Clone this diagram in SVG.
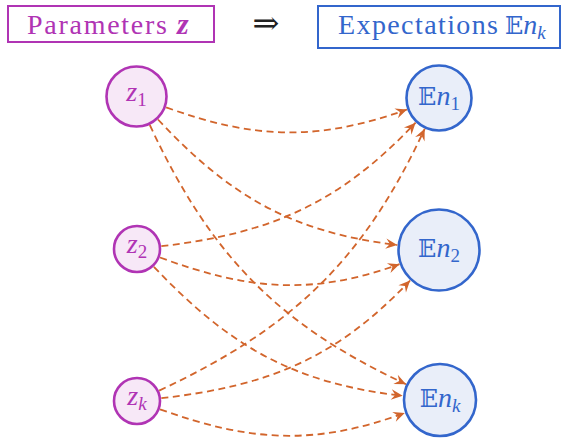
<svg xmlns="http://www.w3.org/2000/svg" width="572" height="441" viewBox="0 0 572 441">
<style>
.zc{fill:#f7e8f7;stroke:#b034b4;stroke-width:2.6}
.ec{fill:#e9eef9;stroke:#3366cc;stroke-width:2.6}
.zt{fill:#b034b4;font-family:"Liberation Serif",serif;font-size:28px}
.et{fill:#3366cc;font-family:"Liberation Serif",serif;font-size:28px}
.it{font-style:italic}
.sub{font-size:19px;font-style:normal}
.subi{font-size:19px;font-style:italic}
.bb{font-family:"DejaVu Serif","DejaVu Sans",serif;font-style:normal;font-size:24px}
.edge{fill:none;stroke:#d2652c;stroke-width:1.8;stroke-dasharray:7 4.5;marker-end:url(#ah)}
</style>
<defs>
<marker id="ah" markerUnits="userSpaceOnUse" viewBox="-13 -7 15 14" markerWidth="15" markerHeight="14" refX="0" refY="0" orient="auto">
<path d="M0,0 L-11.5,-5.2 L-7.5,0 L-11.5,5.2 Z" fill="#d2652c"/>
</marker>
</defs>
<g id="title-left">
<rect x="8" y="6" width="206" height="36" fill="none" stroke="#b034b4" stroke-width="2"/>
<text class="zt" x="27" y="33.5" textLength="140" lengthAdjust="spacing" font-size="30">Parameters</text>
<text x="177" y="33.5" fill="#b034b4" font-family="Liberation Serif,serif" font-size="30" font-style="italic" font-weight="bold">z</text>
</g>
<g id="implies">
<text x="266" y="34" text-anchor="middle" font-family="DejaVu Serif,serif" font-size="32" fill="#222">⇒</text>
</g>
<g id="title-right">
<rect x="318" y="6" width="242" height="42" fill="none" stroke="#3366cc" stroke-width="2"/>
<text class="et" x="338" y="33.5" textLength="160" lengthAdjust="spacing" font-size="30">Expectations</text>
<text class="et" x="505" y="33.5"><tspan class="bb">𝔼</tspan><tspan class="it">n</tspan><tspan class="subi" dy="5">k</tspan></text>
</g>
<g id="z1">
<circle class="zc" cx="136.5" cy="96.5" r="30"/>
<text class="zt" x="136.5" y="100.5" text-anchor="middle"><tspan class="it">z</tspan><tspan class="sub" dy="5">1</tspan></text>
</g>
<g id="z2">
<circle class="zc" cx="137" cy="249" r="23"/>
<text class="zt" x="137" y="253" text-anchor="middle"><tspan class="it">z</tspan><tspan class="sub" dy="5">2</tspan></text>
</g>
<g id="zk">
<circle class="zc" cx="137" cy="401" r="23"/>
<text class="zt" x="137" y="405" text-anchor="middle"><tspan class="it">z</tspan><tspan class="subi" dy="5">k</tspan></text>
</g>
<g id="En1">
<circle class="ec" cx="439" cy="98" r="32.5"/>
<text class="et" x="439" y="105" text-anchor="middle"><tspan class="bb">𝔼</tspan><tspan class="it">n</tspan><tspan class="sub" dy="5">1</tspan></text>
</g>
<g id="En2">
<circle class="ec" cx="439" cy="250" r="40.5"/>
<text class="et" x="439" y="257" text-anchor="middle"><tspan class="bb">𝔼</tspan><tspan class="it">n</tspan><tspan class="sub" dy="5">2</tspan></text>
</g>
<g id="Enk">
<circle class="ec" cx="440" cy="400" r="36"/>
<text class="et" x="440" y="407" text-anchor="middle"><tspan class="bb">𝔼</tspan><tspan class="it">n</tspan><tspan class="subi" dy="5">k</tspan></text>
</g>
<g id="connectors">
<path class="edge" d="M166.1,107.3 C254.7,139.5 318.2,141.3 407,109.5"/>
<path class="edge" d="M158,119.5 C230.3,196.8 292.3,232.3 397.3,245"/>
<path class="edge" d="M149.8,125 C210.1,254.3 276.7,323.9 406,384.2"/>
<path class="edge" d="M161.3,246.2 C271.3,233.5 339.5,203.1 415.6,122.7"/>
<path class="edge" d="M160,257.5 C248,289.9 311.3,296 399.5,264.2"/>
<path class="edge" d="M153.9,266.8 C229.4,346.4 293.7,383.4 402.7,395.8"/>
<path class="edge" d="M159.2,390.6 C291.4,328.7 363.2,261.2 424.7,128.8"/>
<path class="edge" d="M161.3,398.2 C268.4,385.9 336,358.8 410.1,280.5"/>
<path class="edge" d="M160,409.3 C250.1,441.8 314.9,446 404.8,412.9"/>
</g>
</svg>
